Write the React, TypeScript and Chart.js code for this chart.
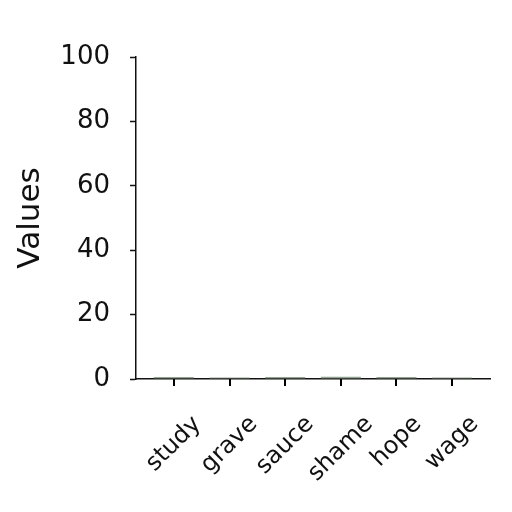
import { useEffect, useRef } from 'react'
import { Chart, registerables } from 'chart.js'

Chart.register(...registerables)

const categories = ['study', 'grave', 'sauce', 'shame', 'hope', 'wage']
const values = [0.6, 0.5, 0.6, 0.7, 0.6, 0.5]
const yTicks = [0, 20, 40, 60, 80, 100]

const FONT = '"DejaVu Sans", sans-serif'

export default function App() {
  const canvasRef = useRef<HTMLCanvasElement>(null)
  const chartRef = useRef<Chart | null>(null)

  useEffect(() => {
    document.body.style.margin = '0'
    if (!canvasRef.current) return
    if (chartRef.current) { chartRef.current.destroy(); chartRef.current = null }

    // x tick marks + rotated labels: label box centred on the tick, top edge on a fixed line
    const xLabels = {
      id: 'xLabels',
      afterDraw(chart: Chart) {
        const { ctx: c } = chart
        const x = chart.scales['x'] as any
        const y0 = x.top
        const size = 24
        const th = 45 * Math.PI / 180
        c.save()
        c.fillStyle = '#000'
        categories.forEach((_, i) => {
          const px = Math.round(x.getPixelForValue(i))
          c.fillRect(px - 1, y0, 2, 7)
        })
        c.font = `${size}px ${FONT}`
        c.fillStyle = '#111'
        c.textAlign = 'center'
        c.textBaseline = 'middle'
        categories.forEach((lab, i) => {
          const w = c.measureText(lab).width
          const boxH = w * Math.sin(th) + size * Math.cos(th)
          c.save()
          c.translate(x.getPixelForValue(i), 412 + boxH / 2)
          c.rotate(-th)
          c.fillText(lab, 0, 0)
          c.restore()
        })
        c.restore()
      },
    }

    chartRef.current = new Chart(canvasRef.current, {
      type: 'bar',
      data: {
        datasets: [{
          data: values.map((v, i) => ({ x: i, y: v })),
          backgroundColor: 'rgba(120,140,120,0.8)',
          borderWidth: 0,
        }],
      },
      options: {
        animation: false,
        responsive: false,
        events: [],
        layout: { padding: { top: 57, right: 22, left: 0, bottom: 0 } },
        plugins: { legend: { display: false }, tooltip: { enabled: false } },
        scales: {
          x: {
            type: 'linear',
            offset: false,
            min: -0.68,
            max: 5.68,
            afterBuildTicks: (axis: any) => { axis.ticks = categories.map((_, i) => ({ value: i })) },
            afterFit: (axis: any) => { axis.height = 133 },
            ticks: { display: false },
            grid: { offset: false, display: false },
            border: { color: '#111', width: 1.5 },
          },
          y: {
            min: 0,
            max: 100,
            afterBuildTicks: (axis: any) => { axis.ticks = yTicks.map(v => ({ value: v })) },
            afterFit: (axis: any) => { axis.width = 136 },
            ticks: { color: '#111', padding: 20, font: { family: FONT, size: 26 } },
            grid: { drawOnChartArea: false, tickLength: 6, color: '#111', tickWidth: 1.5 },
            border: { color: '#111', width: 1.5 },
            title: { display: true, text: 'Values', color: '#111', padding: { top: 12, bottom: 0 }, font: { family: FONT, size: 31 } },
          },
        },
      },
      plugins: [xLabels as any],
    })

    return () => { chartRef.current?.destroy(); chartRef.current = null }
  }, [])

  return (
    <div style={{ width: 512, height: 512, background: '#fff' }}>
      <canvas ref={canvasRef} width={512} height={512} />
    </div>
  )
}
